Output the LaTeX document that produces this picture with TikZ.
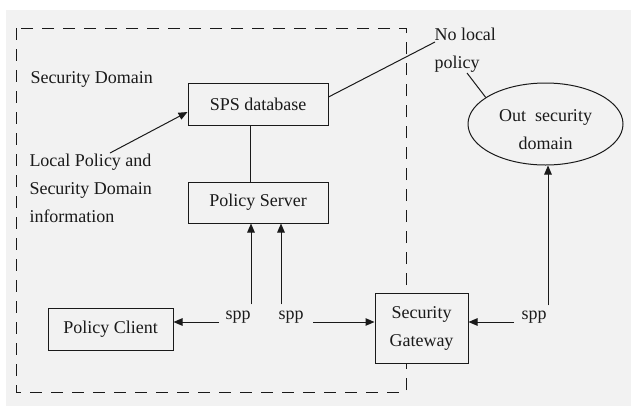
\documentclass[tikz,border=0pt]{standalone}
\usepackage{fontspec}
\setmainfont{Liberation Serif}
\usetikzlibrary{shapes.geometric,arrows.meta}
\definecolor{bggray}{HTML}{F2F2F2}
\definecolor{ink}{HTML}{1A1A1A}
\begin{document}
\begin{tikzpicture}[x=1pt,y=-1pt,
  font=\fontsize{18}{28}\selectfont,
  line width=1pt,
  every node/.style={text=ink},
  box/.style={draw=ink,fill=bggray,inner sep=0pt,align=center},
  lbl/.style={inner sep=0pt,align=left,anchor=north west},
  conn/.style={draw=ink},
  arr/.style={draw=ink,-{Triangle[length=9pt,width=7.5pt]}}]
\useasboundingbox (0,0) rectangle (631,407);
\fill[white] (0,0) rectangle (631,407);
\fill[bggray] (6,10) rectangle (631,406);
\draw[ink,dash pattern=on 12pt off 9pt] (16,28) rectangle (406,392);

\node[box,minimum width=140pt,minimum height=42pt] (sps) at (258,104) {SPS database};
\node[box,minimum width=140pt,minimum height=41pt] (server) at (258,202.5) {Policy Server};
\node[box,minimum width=125pt,minimum height=42pt] (client) at (110.5,329) {Policy Client};
\node[box,minimum width=93pt,minimum height=70pt] (gw) at (421.5,328) {Security\\Gateway};
\node[box,ellipse,minimum width=155pt,minimum height=82pt] (ell) at (545.5,124) {};
\node[inner sep=0pt,align=center] (ellt) at (545.5,130) {Out\ \ security\\domain};

\node[lbl] (sd) at (30,71) {Security Domain};
\node[lbl] (local) at (29,154) {Local Policy and\\Security Domain\\information};
\node[lbl] (nolocal) at (434,28) {No local\\policy};

\node[inner sep=0pt] (spp1) at (238,317) {spp};
\node[inner sep=0pt] (spp2) at (291,317) {spp};
\node[inner sep=0pt] (spp3) at (534,317) {spp};

% SPS links
\draw[conn] ([xshift=-8pt]sps.south) -- ([xshift=-8pt]server.north);
\coordinate (lp) at ([xshift=81pt,yshift=1pt]local.north west);
\draw[arr] (lp) -- ([yshift=-8pt]sps.west);
\coordinate (nl1) at ([xshift=1pt,yshift=-14pt]nolocal.north west);
\draw[conn] ([yshift=7pt]sps.east) -- (nl1);
\coordinate (nl2) at ([xshift=33pt,yshift=-45pt]nolocal.north west);
\draw[conn] (nl2) -- (ell.156);

% spp left
\coordinate (a1) at ([xshift=-6pt,yshift=-5pt]spp1.west);
\draw[arr] (a1) -- (a1 -| client.east);
\coordinate (v1) at ([yshift=6pt]spp1.north east);
\draw[arr] (v1) -- (v1 |- server.south);

% spp middle
\coordinate (v2) at ([xshift=3pt,yshift=6pt]spp2.north west);
\draw[arr] (v2) -- (v2 |- server.south);
\coordinate (a2) at ([xshift=9pt,yshift=-5pt]spp2.east);
\draw[arr] (a2) -- (a2 -| gw.west);

% spp right
\coordinate (a3) at ([xshift=-7pt,yshift=-5pt]spp3.west);
\draw[arr] (a3) -- (a3 -| gw.east);
\coordinate (v3) at ([xshift=1pt,yshift=5pt]spp3.north east);
\draw[arr] (v3) -- (v3 |- ell.south);
\end{tikzpicture}
\end{document}
